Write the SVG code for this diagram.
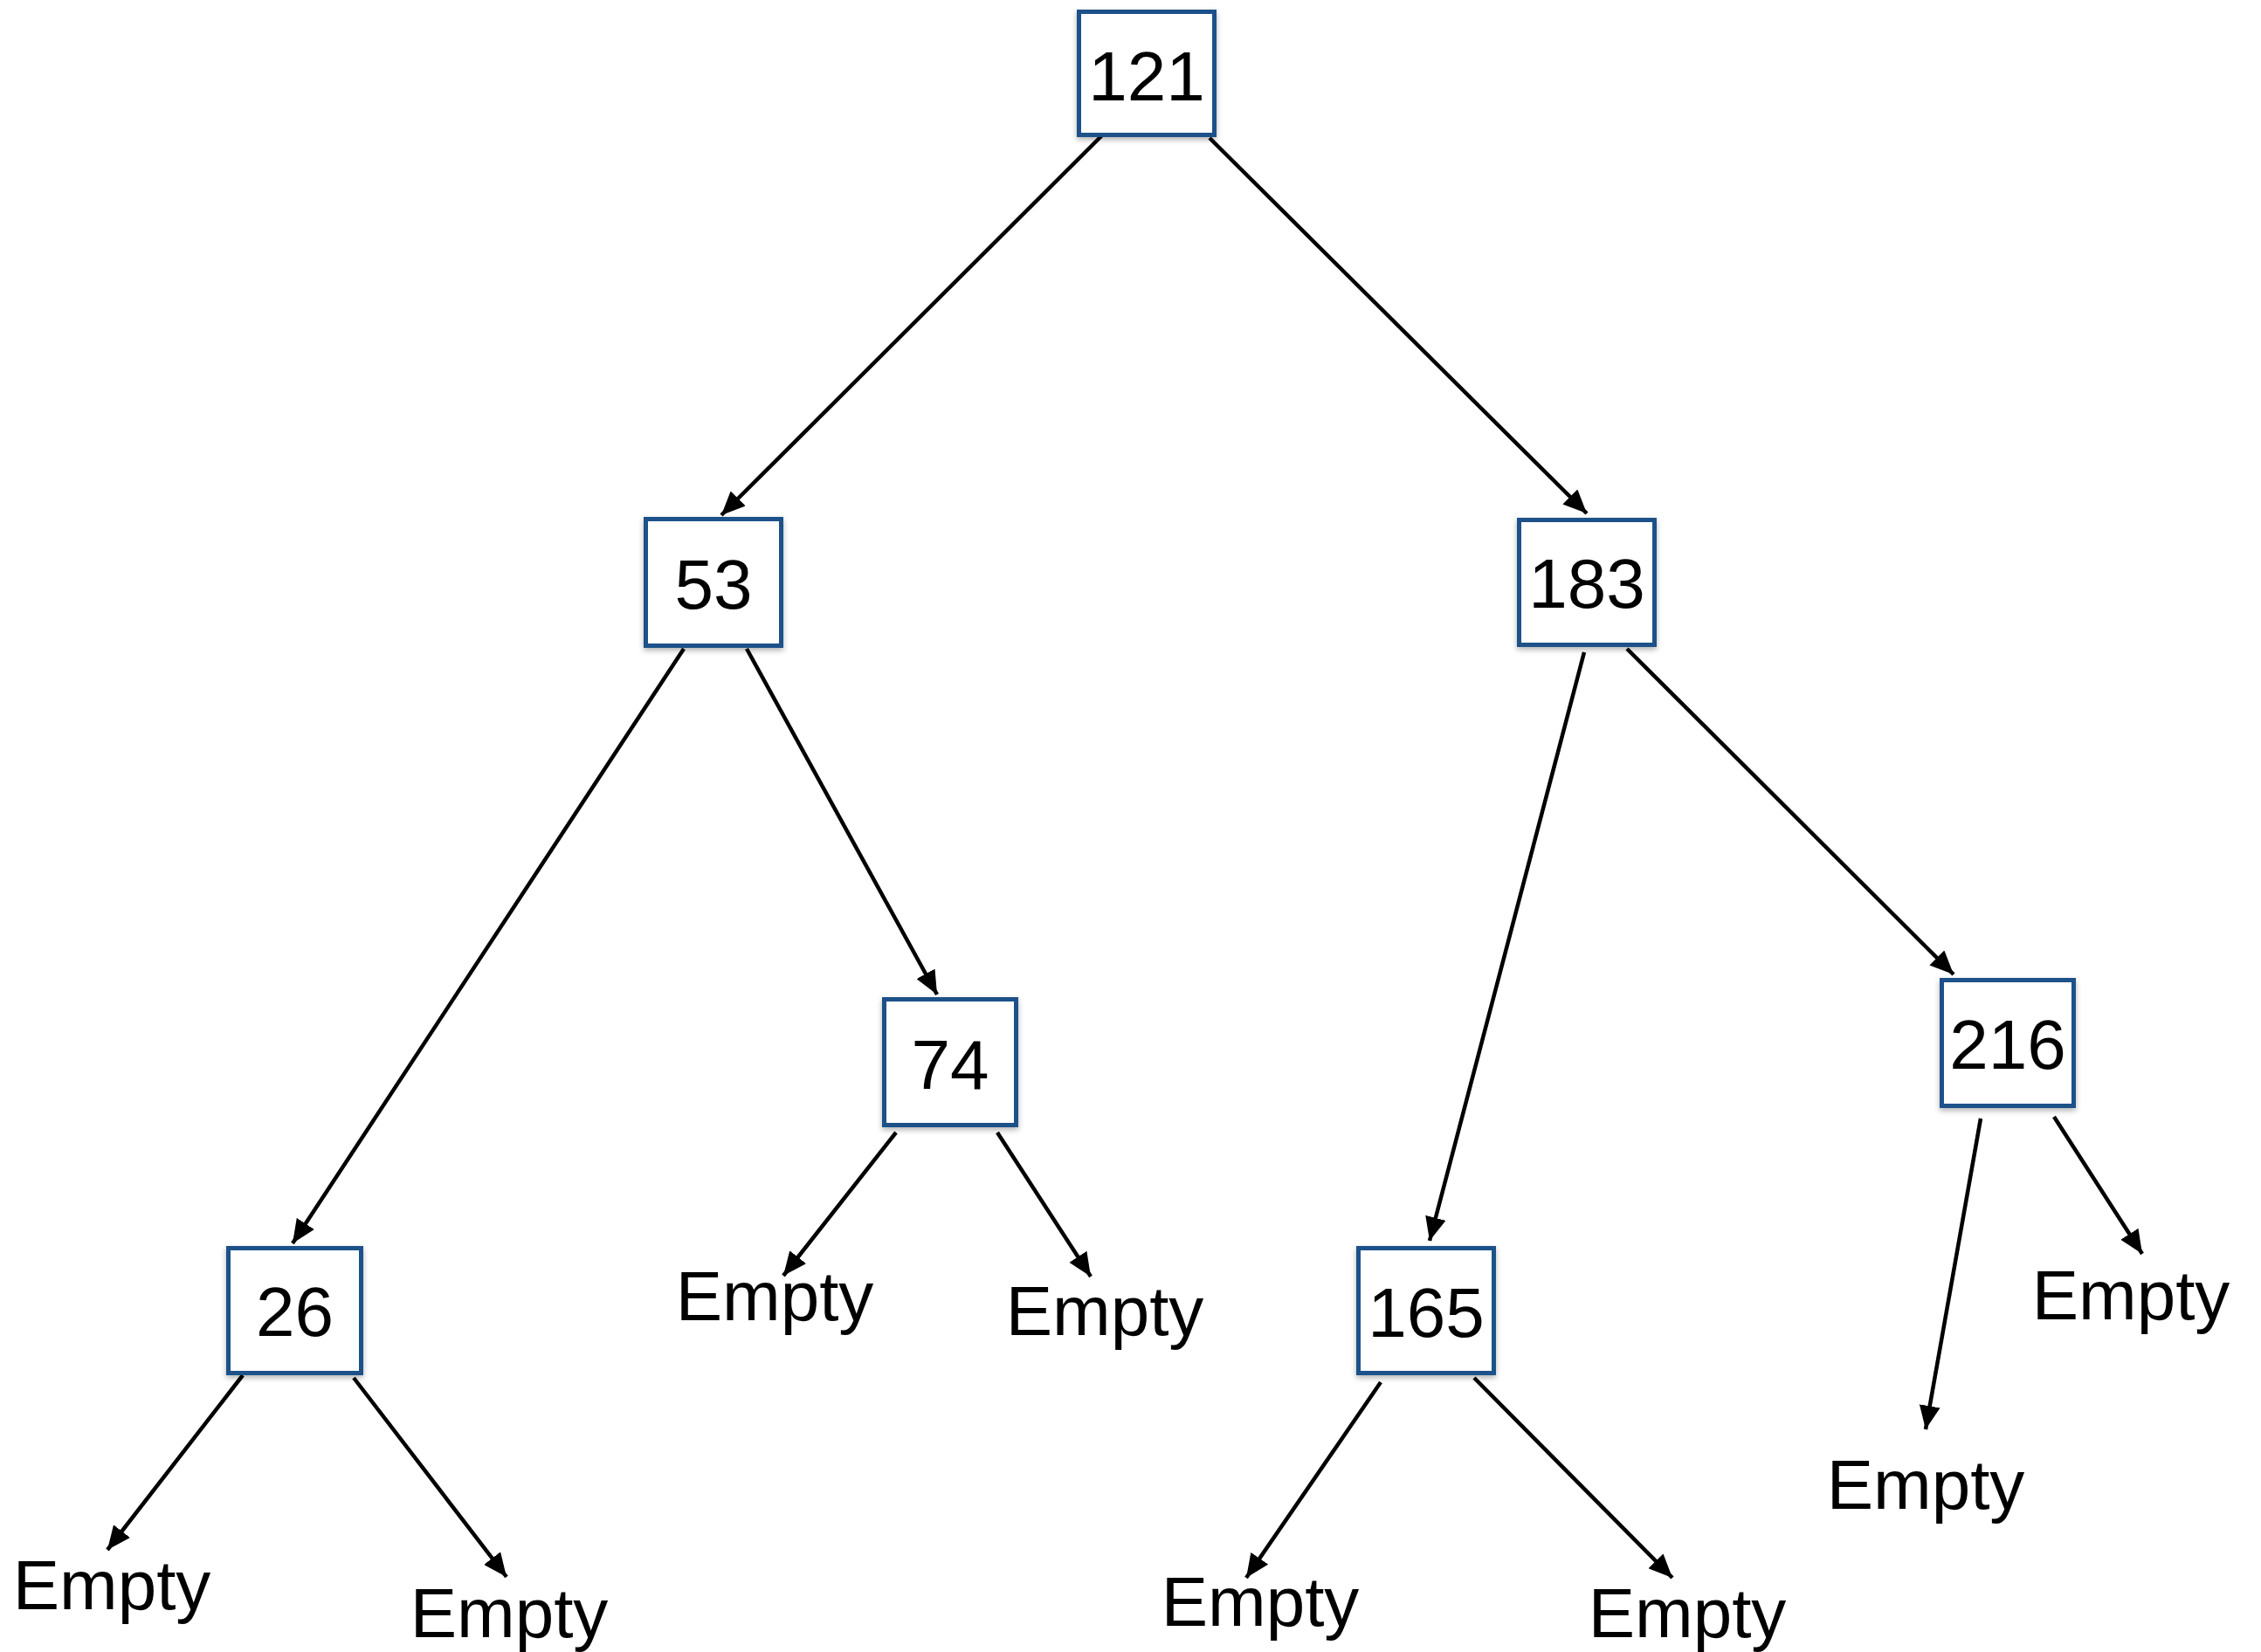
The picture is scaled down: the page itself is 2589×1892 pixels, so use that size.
<svg xmlns="http://www.w3.org/2000/svg" width="2589" height="1892" viewBox="0 0 2589 1892">
<style>
.box{fill:#ffffff;stroke:#1f5189;stroke-width:5;filter:url(#sh)}
.num{font-family:"Liberation Sans",Arial,sans-serif;font-size:80px;fill:#000;text-anchor:middle}
.lbl{font-family:"Liberation Sans",Arial,sans-serif;font-size:80px;fill:#000;text-anchor:middle}
.edge{stroke:#000;stroke-width:4.5;fill:none;marker-end:url(#arr)}
</style>
<defs>
<filter id="sh" x="-10%" y="-10%" width="120%" height="125%">
<feDropShadow dx="0" dy="3" stdDeviation="3" flood-color="#000" flood-opacity="0.3"/>
</filter>
<marker id="arr" viewBox="0 0 27 24" refX="27" refY="12" markerWidth="27" markerHeight="24" markerUnits="userSpaceOnUse" orient="auto">
<path d="M0,0 L27,12 L0,24 z" fill="#000"/>
</marker>
</defs>
<rect width="2589" height="1892" fill="#ffffff"/>
<g id="connectors">
<line class="edge" x1="1263" y1="154" x2="826" y2="590"/>
<line class="edge" x1="1385" y1="158" x2="1817" y2="588"/>
<line class="edge" x1="783" y1="743" x2="335" y2="1424"/>
<line class="edge" x1="855" y1="743" x2="1073" y2="1139"/>
<line class="edge" x1="1814" y1="747" x2="1637" y2="1421"/>
<line class="edge" x1="1863" y1="743" x2="2237" y2="1116"/>
<line class="edge" x1="278" y1="1575" x2="123" y2="1775"/>
<line class="edge" x1="405" y1="1578" x2="580" y2="1806"/>
<line class="edge" x1="1026" y1="1297" x2="897" y2="1461"/>
<line class="edge" x1="1142" y1="1297" x2="1249" y2="1462"/>
<line class="edge" x1="1581" y1="1583" x2="1427" y2="1807"/>
<line class="edge" x1="1688" y1="1578" x2="1915" y2="1807"/>
<line class="edge" x1="2268" y1="1281" x2="2205" y2="1637"/>
<line class="edge" x1="2352" y1="1279" x2="2453" y2="1436"/>
</g>
<g id="n121"><rect class="box" x="1235.5" y="13.5" width="155" height="141"/><text class="num" x="1313" y="115">121</text></g>
<g id="n53"><rect class="box" x="739.5" y="594.5" width="155" height="145"/><text class="num" x="817" y="697">53</text></g>
<g id="n183"><rect class="box" x="1739.5" y="595.5" width="155" height="143"/><text class="num" x="1817" y="696">183</text></g>
<g id="n74"><rect class="box" x="1012.5" y="1144.5" width="151" height="144"/><text class="num" x="1088" y="1247">74</text></g>
<g id="n216"><rect class="box" x="2223.5" y="1122.5" width="151" height="144"/><text class="num" x="2299" y="1224">216</text></g>
<g id="n26"><rect class="box" x="261.5" y="1429.5" width="152" height="143"/><text class="num" x="337.5" y="1530">26</text></g>
<g id="n165"><rect class="box" x="1555.5" y="1429.5" width="155" height="143"/><text class="num" x="1633" y="1531">165</text></g>
<g id="e26l"><text class="lbl" x="128" y="1843">Empty</text></g>
<g id="e26r"><text class="lbl" x="583" y="1875">Empty</text></g>
<g id="e74l"><text class="lbl" x="887" y="1512">Empty</text></g>
<g id="e74r"><text class="lbl" x="1265" y="1529">Empty</text></g>
<g id="e165l"><text class="lbl" x="1443" y="1862">Empty</text></g>
<g id="e165r"><text class="lbl" x="1932" y="1875">Empty</text></g>
<g id="e216l"><text class="lbl" x="2205" y="1728">Empty</text></g>
<g id="e216r"><text class="lbl" x="2440" y="1511">Empty</text></g>
</svg>
